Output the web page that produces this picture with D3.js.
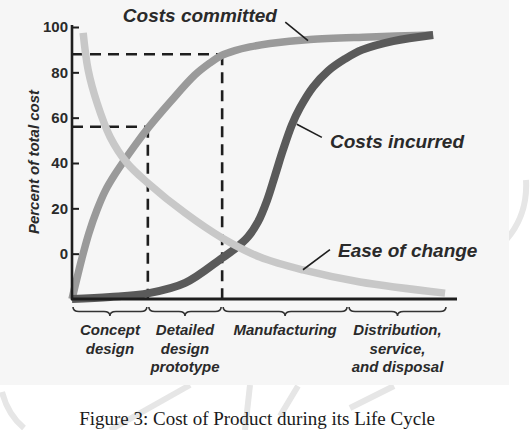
<!DOCTYPE html>
<html>
<head>
<meta charset="utf-8">
<script src="https://cdn.jsdelivr.net/npm/d3@7"></script>
<style>
  body { margin: 0; background: #fff; }
  text { font-family: "Liberation Sans", Arial, sans-serif; }
</style>
</head>
<body>
<div id="chart"></div>
<script>
// 数据：横轴为生命周期进度 (0-100)，纵轴为百分比
const phaseNames = [["Concept", "design"], ["Detailed", "design", "prototype"], ["Manufacturing"], ["Distribution,", "service,", "and disposal"]];
const phaseBounds = [0, 19.7, 39, 71.7, 97.4];
const yTicks = [0, 20, 40, 60, 80, 100];

const committedT = [0, 2.6, 4.4, 6.5, 8.6, 11.2, 16.4, 20, 25.5, 31.9, 35.8, 39, 42.3, 46.2, 51.4, 61.8, 77.4, 93.8];
const committedV = [-20, -1.9, 9.1, 19.3, 27.6, 35.1, 47.9, 55.9, 66.9, 78.8, 84.1, 87.6, 89.6, 91.2, 92.7, 94.5, 95.6, 96.5];

const incurredT = [0, 9.9, 20, 29.4, 39, 42.3, 45.7, 48.3, 50.6, 52.7, 54.8, 57.1, 59.2, 62.6, 66.5, 70.9, 75.3, 83.4, 93.8];
const incurredV = [-20, -19.1, -17.4, -12.9, -1.9, 2.1, 7.4, 14.0, 23.2, 34.3, 45.7, 56.8, 64.3, 73.5, 80.6, 85.9, 89.9, 93.8, 96.5];

const easeT = [2.9, 4.2, 6.5, 9.9, 14.3, 19.7, 29.4, 39, 48.8, 60, 74.8, 96.9];
const easeV = [97.4, 81.0, 66.5, 51.5, 40.0, 31.2, 17.9, 6.9, -1.5, -7.2, -12.5, -17.4];

// 阶段边界处的承诺成本（虚线）
const markT = [19.7, 39];
const markV = [56, 88];

const seriesNames = ["Costs committed", "Costs incurred", "Ease of change"];

function renderChart() {
    const W = 531, H = 430;
    const svg = d3.select("#chart").append("svg")
        .attr("width", W)
        .attr("height", H);

    // 水印（淡灰色）
    const wm = svg.append("g").attr("fill", "none").attr("stroke", "#e6e6e6").attr("stroke-width", 6);
    wm.append("path").attr("d", "M506,240 Q528,215 526,180");
    wm.append("path").attr("d", "M2,392 Q8,415 24,428");
    wm.append("path").attr("d", "M110,430 L190,385");
    wm.append("path").attr("d", "M245,430 L250,385");
    wm.append("path").attr("d", "M280,416 L298,386 M350,408 L394,386");

    // 图表底板
    svg.append("rect")
        .attr("x", 0).attr("y", 0)
        .attr("width", 509).attr("height", 385)
        .attr("fill", "#f6f6f6");

    const x = d3.scaleLinear().domain([0, 100]).range([72, 457]);
    const y = d3.scaleLinear().domain([-20, 100]).range([299, 27]);

    // 虚线
    const dash = svg.append("g")
        .attr("stroke", "#1e1e1e")
        .attr("stroke-width", 2.6)
        .attr("stroke-dasharray", "11,7");
    markT.forEach((t, i) => {
        dash.append("line")
            .attr("x1", x(0)).attr("x2", x(t))
            .attr("y1", y(markV[i])).attr("y2", y(markV[i]));
        dash.append("line")
            .attr("x1", x(t)).attr("x2", x(t))
            .attr("y1", y(markV[i])).attr("y2", y(-20));
    });

    // 曲线
    const line = d3.line()
        .x(d => x(d[0]))
        .y(d => y(d[1]))
        .curve(d3.curveCatmullRom.alpha(0.5));

    const curves = [
        {t: committedT, v: committedV, color: "#9a9a9a", w: 7.5},
        {t: incurredT, v: incurredV, color: "#5a5a5a", w: 8},
        {t: easeT, v: easeV, color: "#c8c8c8", w: 7.5}
    ];
    curves.forEach(c => {
        svg.append("path")
            .datum(d3.zip(c.t, c.v))
            .attr("fill", "none")
            .attr("stroke", c.color)
            .attr("stroke-width", c.w)
            .attr("d", line);
    });

    // 坐标轴
    const yAxis = d3.axisLeft(y).tickValues(yTicks).tickSize(-7).tickPadding(6);
    const gy = svg.append("g")
        .attr("transform", `translate(${x(0)},0)`)
        .call(yAxis);
    gy.select(".domain").remove();
    gy.selectAll(".tick line").attr("stroke", "#1e1e1e").attr("stroke-width", 2).attr("x1", 0);
    gy.selectAll(".tick text")
        .attr("x", -4)
        .style("font-size", "15px")
        .style("font-weight", "bold")
        .attr("fill", "#2a2a2a");
    svg.append("line")
        .attr("x1", x(0)).attr("x2", x(0))
        .attr("y1", y(100) - 2).attr("y2", y(-20) + 1)
        .attr("stroke", "#1e1e1e").attr("stroke-width", 2.6);
    svg.append("line")
        .attr("x1", x(0) - 1).attr("x2", x(100))
        .attr("y1", y(-20)).attr("y2", y(-20))
        .attr("stroke", "#1e1e1e").attr("stroke-width", 3);

    svg.append("text")
        .attr("transform", `translate(33,${y(40) - 1}) rotate(-90)`)
        .attr("text-anchor", "middle")
        .attr("dominant-baseline", "central")
        .style("font-size", "15px")
        .style("font-weight", "bold")
        .style("font-style", "italic")
        .attr("fill", "#2a2a2a")
        .text("Percent of total cost");

    // 阶段括号
    const by = y(-20) + 8, bd = 9, r = 6;
    for (let i = 0; i < phaseNames.length; i++) {
        const x0 = x(phaseBounds[i]) + 1, x1 = x(phaseBounds[i + 1]) - 1, m = (x0 + x1) / 2;
        const h = by + bd / 2;
        const d = `M${x0},${by} Q${x0},${h} ${x0 + r},${h} L${m - r},${h} Q${m},${h} ${m},${by + bd}` +
                  ` Q${m},${h} ${m + r},${h} L${x1 - r},${h} Q${x1},${h} ${x1},${by}`;
        svg.append("path").attr("d", d)
            .attr("fill", "none").attr("stroke", "#333").attr("stroke-width", 1.6);

        const tx = svg.append("text")
            .attr("x", m)
            .attr("y", 335)
            .attr("text-anchor", "middle")
            .style("font-size", "15px")
            .style("font-weight", "bold")
            .style("font-style", "italic")
            .attr("fill", "#2a2a2a");
        phaseNames[i].forEach((s, j) => {
            tx.append("tspan").attr("x", m).attr("dy", j === 0 ? 0 : 18.5).text(s);
        });
    }

    // 曲线标注
    const notes = [
        {tx: 13.2, ty: 102.3, a: [55.4, 102.1], b: [61.3, 94]},
        {tx: 67, ty: 46.5, a: [58.4, 57.1], b: [64.9, 51.3]},
        {tx: 69.1, ty: -1.5, a: [60, -7.1], b: [67, 1.8]}
    ];
    notes.forEach((n, i) => {
        svg.append("line")
            .attr("x1", x(n.a[0])).attr("y1", y(n.a[1]))
            .attr("x2", x(n.b[0])).attr("y2", y(n.b[1]))
            .attr("stroke", "#1e1e1e").attr("stroke-width", 1.6);
        svg.append("text")
            .attr("x", x(n.tx)).attr("y", y(n.ty))
            .style("font-size", "19px")
            .style("font-weight", "bold")
            .style("font-style", "italic")
            .attr("fill", "#2a2a2a")
            .text(seriesNames[i]);
    });

    // 图注
    svg.append("text")
        .attr("x", 257).attr("y", 425)
        .attr("text-anchor", "middle")
        .style("font-family", "'Liberation Serif', 'Times New Roman', serif")
        .style("font-size", "19px")
        .attr("fill", "#1a1a1a")
        .text("Figure 3: Cost of Product during its Life Cycle");
}

renderChart();
</script>
</body>
</html>
